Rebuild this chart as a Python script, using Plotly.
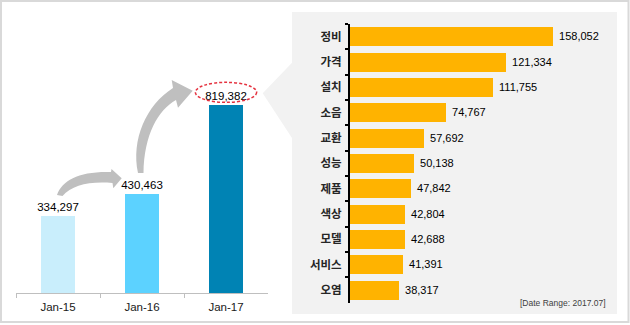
import re
import plotly.graph_objects as go

# ---------------- data ----------------
periods = ["Jan-15", "Jan-16", "Jan-17"]
totals = [334297, 430463, 819382]
period_colors = ["#C9EEFC", "#5CD2FF", "#0083B4"]

topics = ["정비", "가격", "설치", "소음", "교환", "성능", "제품", "색상", "모델", "서비스", "오염"]
counts = [158052, 121334, 111755, 74767, 57692, 50138, 47842, 42804, 42688, 41391, 38317]

note = "[Date Range: 2017.07]"

W, H = 630, 325


def to_paper(d):
    """Convert an SVG path written in pixel coordinates into paper coordinates."""
    return re.sub(
        r"(-?[\d.]+),(-?[\d.]+)",
        lambda m: f"{float(m.group(1)) / W:.5f},{1 - float(m.group(2)) / H:.5f}",
        d,
    )


LAT = "Liberation Sans, Arial, sans-serif"
KR = "Noto Sans CJK KR, sans-serif"

fig = go.Figure()

fig.add_trace(go.Bar(
    x=periods, y=totals, marker=dict(color=period_colors, line=dict(width=0)),
    width=0.4, texttemplate="%{y:,}", textposition="outside",
    textfont=dict(family=LAT, size=11.5, color="#000000"),
    constraintext="none", cliponaxis=False, xaxis="x", yaxis="y",
    hoverinfo="skip",
))

fig.add_trace(go.Bar(
    x=counts, y=topics, orientation="h",
    marker=dict(color="#FFB300", line=dict(width=0)),
    width=0.75, texttemplate=" %{x:,}", textposition="outside",
    textfont=dict(family=LAT, size=11, color="#000000"),
    constraintext="none", cliponaxis=False, xaxis="x2", yaxis="y2",
    hoverinfo="skip",
))

shapes = [
    # outer border
    dict(type="rect", xref="paper", yref="paper",
         x0=1 / W, x1=628.5 / W, y0=1 - 322 / H, y1=1 - 1 / H,
         line=dict(color="#D9D9D9", width=2), fillcolor="rgba(0,0,0,0)", layer="below"),
    # grey panel with left-pointing chevron
    dict(type="path", xref="paper", yref="paper",
         path=to_paper("M 292,12 L 617,12 L 617,314 L 292,314 L 292,138 L 262.7,93.3 L 292,62.7 Z"),
         fillcolor="#F2F2F2", line=dict(width=0), layer="below"),
    # small curved arrow
    dict(type="path", xref="paper", yref="paper",
         path=to_paper("M 57,195 C 62,180 80,171 111,172 L 111.5,169 L 121.7,178.3 "
                       "L 113.3,188.3 L 112.5,183 C 90,181 72,185 62.5,196 Z"),
         fillcolor="#BFBFBF", line=dict(width=0), layer="above"),
    # large curved arrow
    dict(type="path", xref="paper", yref="paper",
         path=to_paper("M 138,173 C 131,140 146,105 173,88 L 171.7,80 L 192.7,90.7 "
                       "L 178,107.7 L 176,100 C 158,110 144,135 143.5,173 Z"),
         fillcolor="#BFBFBF", line=dict(width=0), layer="above"),
]

# dashed ellipse around the last total label (anchored on the data)
units_per_px = 1192000 / 273
top = totals[-1]
shapes.append(dict(
    type="circle", xref="x", yref="y",
    x0=2 - 0.365, x1=2 + 0.365,
    y0=top + 3 * units_per_px, y1=top + 23 * units_per_px,
    line=dict(color="#E5323F", width=1.5, dash="3px,2px"),
    fillcolor="rgba(0,0,0,0)", layer="above",
))

fig.update_layout(
    width=W, height=H, autosize=False,
    margin=dict(l=0, r=0, t=0, b=0, pad=0),
    paper_bgcolor="#FFFFFF", plot_bgcolor="rgba(0,0,0,0)",
    showlegend=False, bargap=0,
    shapes=shapes,
    xaxis=dict(
        domain=[16 / W, 268 / W], anchor="y", type="category",
        range=[-0.5, 2.5], showline=True, linecolor="#BFBFBF", linewidth=1,
        ticks="outside", tickson="boundaries", ticklen=4, tickcolor="#BFBFBF",
        ticklabelstandoff=3,
        tickfont=dict(family=LAT, size=11.5, color="#1A1A1A"),
        showgrid=False, zeroline=False, fixedrange=True,
    ),
    yaxis=dict(
        domain=[1 - 293 / H, 1 - 20 / H], anchor="x",
        range=[0, 1192000], visible=False, fixedrange=True,
    ),
    xaxis2=dict(
        domain=[350 / W, 610 / W], anchor="y2",
        range=[0, 202700], visible=False, fixedrange=True,
    ),
    yaxis2=dict(
        domain=[1 - 302.7 / H, 1 - 23.8 / H], anchor="x2", type="category",
        range=[10.5, -0.5], showline=True, linecolor="#000000", linewidth=2,
        ticks="outside", tickson="boundaries", ticklen=3, tickwidth=1.5,
        tickcolor="#000000", ticklabelstandoff=4,
        tickfont=dict(family=KR, size=11.5, color="#262626", weight="bold"),
        showgrid=False, zeroline=False, fixedrange=True,
    ),
    annotations=[dict(
        text=note, xref="paper", yref="paper",
        x=608 / W, y=1 - 303 / H, xanchor="right", yanchor="middle",
        showarrow=False, font=dict(family=LAT, size=8.5, color="#404040"),
    )],
)

fig.write_html("out.html")
